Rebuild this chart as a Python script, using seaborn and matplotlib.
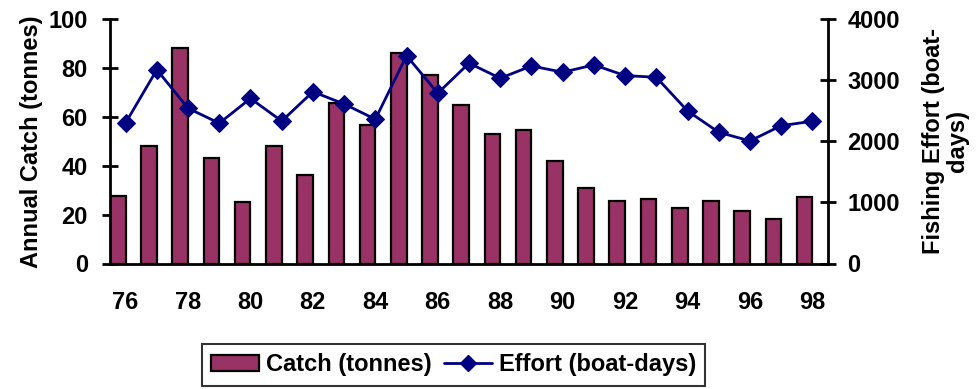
import matplotlib
matplotlib.use("Agg")
import matplotlib.pyplot as plt
import seaborn as sns
import numpy as np
import pandas as pd
from matplotlib.lines import Line2D
from matplotlib.patches import Patch

years = [76, 77, 78, 79, 80, 81, 82, 83, 84, 85, 86, 87, 88, 89, 90, 91, 92, 93, 94, 95, 96, 97, 98]
catch = [27.8, 48, 88, 43, 25, 48, 36, 65.8, 56.5, 86, 77, 64.8, 53, 54.5, 42, 31, 25.5, 26.4, 22.7, 25.5, 21.4, 18.4, 27.2]
effort = [2300, 3170, 2540, 2295, 2700, 2330, 2810, 2610, 2360, 3400, 2786, 3277, 3031, 3232, 3129, 3249, 3074, 3047, 2496, 2147, 2005, 2255, 2327]
tick_labels = ["76", "", "78", "", "80", "", "82", "", "84", "", "86", "", "88", "", "90", "", "92", "", "94", "", "96", "", "98"]

bar_color = "#993366"
line_color = "#000080"

sns.set_style("white")
plt.rcParams['font.family'] = ['Liberation Sans', 'DejaVu Sans']
plt.rcParams['font.weight'] = 'bold'
for k in ['text.color', 'axes.labelcolor', 'xtick.color', 'ytick.color']:
    plt.rcParams[k] = 'black'

FS = 17

fig = plt.figure(figsize=(9.77, 3.89), dpi=100)
ax = fig.add_axes([110/977, 1-263.5/389, (828-110)/977, (263.5-19)/389])

idx = np.arange(len(years))
df = pd.DataFrame({"pos": idx - 0.25, "catch": catch, "effort": effort, "cx": idx})

sns.barplot(data=df, x="pos", y="catch", native_scale=True, width=0.5,
            color=bar_color, saturation=1, edgecolor="black", linewidth=1.6, ax=ax)
ax.set_xlim(-0.5, len(years) - 0.5)
ax.set_ylim(0, 100)
ax.set_yticks([0, 20, 40, 60, 80, 100])
ax.set_yticklabels(["0", "20", "40", "60", "80", "100"], fontsize=FS, fontweight='bold')
ax.set_xticks(np.arange(len(years) + 1) - 0.5)
ax.set_xticklabels([])
ax.set_xticks(idx, minor=True)
ax.set_xticklabels(tick_labels, minor=True, fontsize=FS, fontweight='bold')
ax.tick_params(axis='x', which='major', direction='out', length=7, width=2, color='black')
ax.tick_params(axis='x', which='minor', length=0, pad=20)
ax.tick_params(axis='y', direction='inout', length=12, width=2, color='black', pad=10)
ax.set_xlabel("")
ax.set_ylabel("Annual Catch (tonnes)", fontsize=FS, fontweight='bold', labelpad=4)
for s in ['left', 'bottom']:
    ax.spines[s].set_linewidth(2)
    ax.spines[s].set_color('black')
ax.spines['top'].set_visible(False)
ax.spines['right'].set_visible(False)

ax2 = ax.twinx()
sns.lineplot(data=df, x="cx", y="effort", color=line_color, linewidth=2,
             marker="D", markersize=9, markeredgecolor=line_color, ax=ax2)
ax2.set_ylim(0, 4000)
ax2.set_xlim(-0.5, len(years) - 0.5)
ax2.set_yticks([0, 1000, 2000, 3000, 4000])
ax2.set_yticklabels(["0", "1000", "2000", "3000", "4000"], fontsize=FS, fontweight='bold')
ax2.tick_params(axis='y', direction='inout', length=12, width=2, color='black', pad=8, right=True)
ax2.set_ylabel("Fishing Effort (boat-\ndays)", fontsize=FS, fontweight='bold', labelpad=16, linespacing=1.05)
for s in ['left', 'bottom', 'top']:
    ax2.spines[s].set_visible(False)
ax2.spines['right'].set_linewidth(2)
ax2.spines['right'].set_color('black')
ax2.set_xlabel("")

handles = [Patch(facecolor=bar_color, edgecolor='black', linewidth=1.6),
           Line2D([0], [0], color=line_color, linewidth=2, marker='D', markersize=8)]
leg = fig.legend(handles, ["Catch (tonnes)", "Effort (boat-days)"], loc='upper left',
                 bbox_to_anchor=(202/977, 1-344/389), ncol=2, frameon=True, fancybox=False,
                 prop={'size': FS, 'weight': 'bold'}, handlelength=2.0, handletextpad=0.3,
                 columnspacing=0.55, borderpad=0.4, borderaxespad=0)
leg.get_frame().set_edgecolor('black')
leg.get_frame().set_linewidth(1.5)

fig.savefig("out.png", dpi=100)
